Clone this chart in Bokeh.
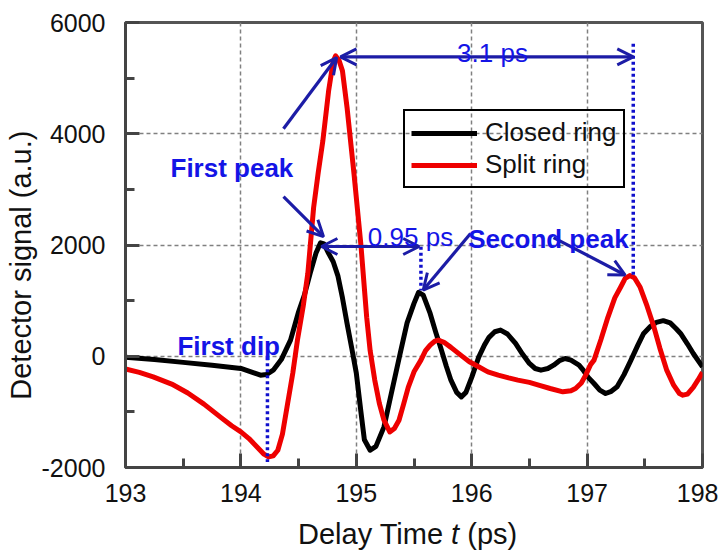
import math
from bokeh.plotting import figure
from bokeh.models import (Range1d, Label, Arrow, OpenHead, Legend, LegendItem,
                          FixedTicker, Div)
from bokeh.layouts import column
from bokeh.embed import file_html
from bokeh.resources import INLINE

# ---------------- data ----------------
closed_t = [193.00, 193.25, 193.50, 193.75, 194.00, 194.10, 194.17, 194.22, 194.28, 194.35,
            194.43, 194.50, 194.55, 194.60, 194.65, 194.69, 194.72, 194.76, 194.80, 194.84,
            194.88, 194.92, 194.96, 195.00, 195.04, 195.07, 195.12, 195.17, 195.24, 195.30,
            195.38, 195.44, 195.50, 195.54, 195.58, 195.64, 195.69, 195.73, 195.78, 195.82,
            195.87, 195.91, 195.95, 196.00, 196.06, 196.11, 196.15, 196.20, 196.25, 196.31,
            196.38, 196.44, 196.50, 196.55, 196.60, 196.66, 196.71, 196.76, 196.81, 196.86,
            196.93, 196.97, 197.01, 197.06, 197.11, 197.16, 197.21, 197.26, 197.32, 197.38,
            197.44, 197.49, 197.55, 197.60, 197.66, 197.72, 197.77, 197.81, 197.87, 197.92,
            198.00]
closed_signal = [-20, -60, -110, -160, -220, -290, -340, -330, -250, -60,
                 290, 800, 1100, 1490, 1850, 2040, 2020, 1850, 1700, 1450,
                 1050, 590, 150, -300, -1000, -1500, -1690, -1620, -1270, -700,
                 50, 600, 950, 1150, 1100, 770, 420, 160, -180, -430,
                 -650, -730, -650, -380, -20, 200, 340, 440, 470, 400,
                 230, 40, -130, -220, -250, -220, -160, -80, -40, -70,
                 -160, -260, -380, -490, -610, -670, -630, -550, -330, -70,
                 200, 410, 540, 610, 640, 600, 500, 410, 220, 50,
                 -190]

split_t = [193.00, 193.12, 193.24, 193.40, 193.54, 193.68, 193.82, 193.92, 194.00, 194.07,
           194.14, 194.20, 194.24, 194.28, 194.32, 194.36, 194.40, 194.45, 194.49, 194.54,
           194.58, 194.63, 194.67, 194.71, 194.76, 194.80, 194.82, 194.85, 194.88, 194.92,
           194.98, 195.04, 195.09, 195.12, 195.16, 195.20, 195.24, 195.29, 195.33, 195.37,
           195.41, 195.45, 195.50, 195.56, 195.60, 195.64, 195.68, 195.71, 195.76, 195.82,
           195.88, 195.93, 195.98, 196.06, 196.14, 196.23, 196.32, 196.40, 196.50, 196.58,
           196.68, 196.79, 196.86, 196.90, 196.95, 196.99, 197.03, 197.06, 197.12, 197.18,
           197.24, 197.29, 197.33, 197.37, 197.41, 197.46, 197.52, 197.58, 197.63, 197.69,
           197.75, 197.80, 197.83, 197.87, 197.92, 197.96, 198.00]
split_signal = [-230, -290, -370, -500, -660, -860, -1090, -1250, -1360, -1480,
                -1630, -1760, -1810, -1790, -1690, -1400, -910, -300, 290, 900,
                1490, 2670, 3300, 3870, 4770, 5300, 5400, 5320, 5130, 4470,
                3280, 2000, 700, 100, -430, -850, -1150, -1360, -1300, -1150,
                -860, -560, -280, -70, 100, 200, 270, 290, 250, 160,
                60, -20, -100, -190, -280, -340, -390, -430, -470, -520,
                -580, -640, -620, -580, -480, -330, -150, -70, 300, 700,
                1050, 1240, 1400, 1450, 1410, 1240, 900, 520, 150, -250,
                -520, -670, -700, -680, -560, -430, -290]

series_names = ["Closed ring", "Split ring"]
x_ticks = [193, 194, 195, 196, 197, 198]
y_ticks = [-2000, 0, 2000, 4000, 6000]
y_tick_labels = {-2000: "-2000", 0: "0", 2000: "2000", 4000: "4000", 6000: "6000"}

# annotation anchors (data coordinates)
dip_t, dip_top, dip_bottom = 194.23, -20, -1900
second_closed_t, sc_top, sc_bottom = 195.56, 1970, 1180
second_split_t, ss_top, ss_bottom = 197.40, 5620, 1450

# ---------------- figure ----------------
FONT = "Liberation Sans"
AX = "#444444"
ARROW = "#1c1ca6"
TXT = "#1414e6"

p = figure(width=718, height=515, output_backend="svg", toolbar_location=None,
           x_range=Range1d(193, 198), y_range=Range1d(-2000, 6000),
           min_border_left=125, min_border_right=16, min_border_top=22,
           min_border_bottom=48)
p.background_fill_color = "white"
p.border_fill_color = "white"
p.outline_line_color = "#555555"
p.outline_line_width = 3

for ax in (p.xaxis[0], p.yaxis[0]):
    ax.axis_line_color = AX
    ax.axis_line_width = 3
    ax.major_tick_line_color = AX
    ax.major_tick_line_width = 3
    ax.minor_tick_line_color = AX
    ax.minor_tick_line_width = 3
    ax.major_tick_in = 14
    ax.major_tick_out = 0
    ax.minor_tick_in = 9
    ax.minor_tick_out = 0
    ax.major_label_text_font = FONT
    ax.major_label_text_font_size = "25px"
    ax.major_label_text_color = "#111111"
p.xaxis[0].major_label_standoff = 16
p.yaxis[0].major_label_standoff = 20

p.xaxis[0].ticker = FixedTicker(ticks=x_ticks, minor_ticks=[193.5, 194.5, 195.5, 196.5, 197.5])
p.yaxis[0].ticker = FixedTicker(ticks=y_ticks, minor_ticks=[-1000, 1000, 3000, 5000])
p.yaxis[0].major_label_overrides = y_tick_labels

# y axis title (trailing no-break spaces move it down slightly, as in the reference)
p.yaxis[0].axis_label = "Detector signal (a.u.)" + "\u00a0" * 5
p.yaxis[0].axis_label_text_font = FONT
p.yaxis[0].axis_label_text_font_size = "29px"
p.yaxis[0].axis_label_text_font_style = "normal"
p.yaxis[0].axis_label_text_color = "#111111"
p.yaxis[0].axis_label_standoff = 2

p.xgrid[0].ticker = FixedTicker(ticks=x_ticks[1:-1])
p.ygrid[0].ticker = FixedTicker(ticks=y_ticks[1:-1])
for g in (p.xgrid[0], p.ygrid[0]):
    g.grid_line_color = "#808080"
    g.grid_line_width = 1.5
    g.grid_line_dash = "4 3"

# curves
r_closed = p.line(closed_t, closed_signal, line_color="black", line_width=5, line_join="round")
r_split = p.line(split_t, split_signal, line_color="#ee0000", line_width=5, line_join="round")

legend = Legend(items=[LegendItem(label=series_names[0], renderers=[r_closed]),
                       LegendItem(label=series_names[1], renderers=[r_split])],
                location=(278, 279), orientation="vertical")
legend.background_fill_alpha = 0
legend.border_line_color = "black"
legend.border_line_alpha = 1
legend.border_line_width = 2
legend.label_text_font = FONT
legend.label_text_font_size = "26px"
legend.label_text_color = "#111111"
legend.glyph_width = 66
legend.glyph_height = 24
legend.label_height = 24
legend.label_width = 130
legend.label_standoff = 8
legend.spacing = 1
legend.padding = 6
legend.margin = 0
p.add_layout(legend, "center")

# dotted markers
for (tx, y0, y1) in [(dip_t, dip_top, dip_bottom),
                     (second_closed_t, sc_top, sc_bottom),
                     (second_split_t, ss_top, ss_bottom)]:
    p.segment(x0=[tx], y0=[y0], x1=[tx], y1=[y1], line_color="#1010cc",
              line_width=3.5, line_dash="3 3")

# arrows
def arrow(x0, y0, x1, y1, both=False):
    end = OpenHead(size=16, line_color=ARROW, line_width=3)
    start = OpenHead(size=16, line_color=ARROW, line_width=3) if both else None
    p.add_layout(Arrow(x_start=x0, y_start=y0, x_end=x1, y_end=y1, end=end, start=start,
                       line_color=ARROW, line_width=3.2))

arrow(194.369, 4090, 194.830, 5370)            # First peak -> split ring
arrow(194.369, 2870, 194.716, 2150)            # First peak -> closed ring
arrow(194.863, 5381, 197.40, 5381, both=True)  # 3.1 ps
arrow(194.698, 1973, 195.545, 1973, both=True) # 0.95 ps
arrow(195.99, 2206, 195.58, 1190)              # Second peak -> closed ring
arrow(196.709, 2134, 197.33, 1460)             # Second peak -> split ring

# texts
def label(x, y, text, bold=False, size="26px", color=TXT, align="left"):
    p.add_layout(Label(x=x, y=y, text=text, text_font=FONT, text_font_size=size,
                       text_font_style="bold" if bold else "normal", text_color=color,
                       text_align=align, text_baseline="alphabetic"))

label(193.39, 3390, "First peak", bold=True)
label(193.45, 180, "First dip", bold=True)
label(195.97, 2100, "Second peak", bold=True)
label(195.10, 2135, "0.95 ps")
label(196.18, 5453, "3.1 ps", align="center")

# x axis title with italic t
xtitle = Div(text='<div style="font-family:\'Liberation Sans\',Arial,sans-serif;'
                  'font-size:29px;color:#111111;padding-left:298px;padding-top:3px;'
                  'line-height:32px;white-space:nowrap;">'
                  'Delay Time <i>t</i> (ps)</div>',
             width=718, height=35, margin=(0, 0, 0, 0))

layout = column(p, xtitle, spacing=0)
open("out.html", "w").write(file_html(layout, INLINE))
